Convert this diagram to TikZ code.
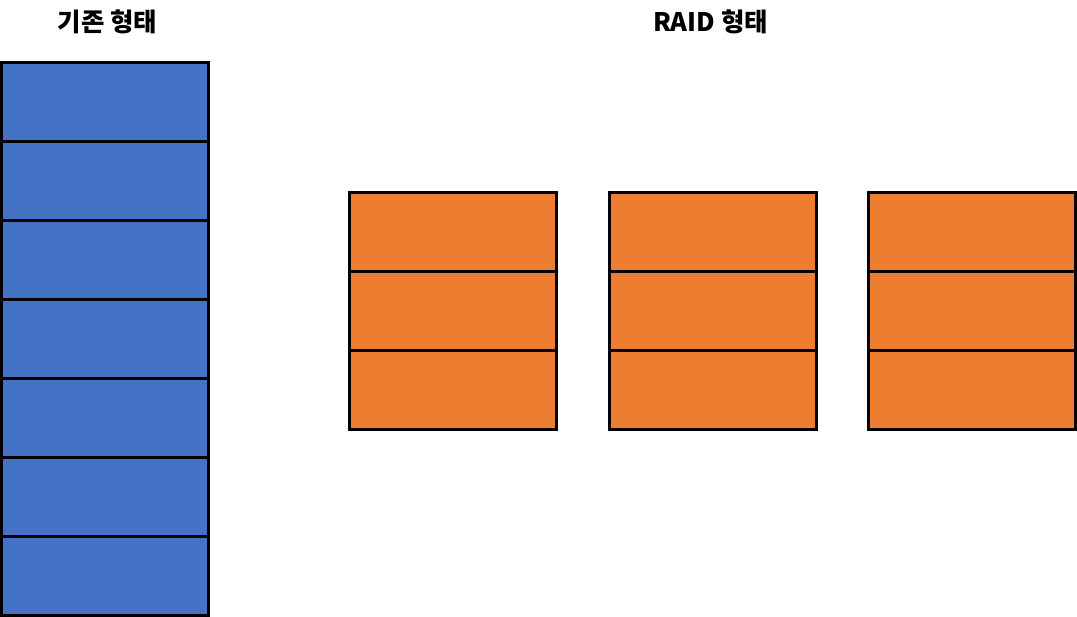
\documentclass[tikz,border=0pt]{standalone}
\usepackage{fontspec}
\newfontfamily\krfont{Noto Sans CJK KR}
\definecolor{diskblue}{HTML}{4472C4}
\definecolor{diskorange}{HTML}{ED7D31}
\tikzset{
  blk/.style={draw=black, line width=3pt, minimum width=207pt, minimum height=79pt, inner sep=0pt, outer sep=0pt},
  bluecell/.style={blk, fill=diskblue},
  orangecell/.style={blk, fill=diskorange},
  ttl/.style={font=\krfont\bfseries\fontsize{25.5}{30}\selectfont, inner sep=0pt}
}
\begin{document}
\begin{tikzpicture}[x=1pt,y=-1pt]
\useasboundingbox (0,0) rectangle (1077,617);
\node[ttl] (t1) at (107.5,22) {기존 형태};
\node[ttl] (t2) at (710.5,22) {RAID 형태};
\foreach \i in {0,...,6} {
  \node[bluecell, anchor=north west] (b\i) at (1.5,{62.5+79*\i}) {};
}
\foreach \c/\x in {1/349,2/609,3/868.5} {
  \foreach \i in {0,1,2} {
    \node[orangecell, anchor=north west] (o\c\i) at (\x,{192.5+79*\i}) {};
  }
}
\end{tikzpicture}
\end{document}
